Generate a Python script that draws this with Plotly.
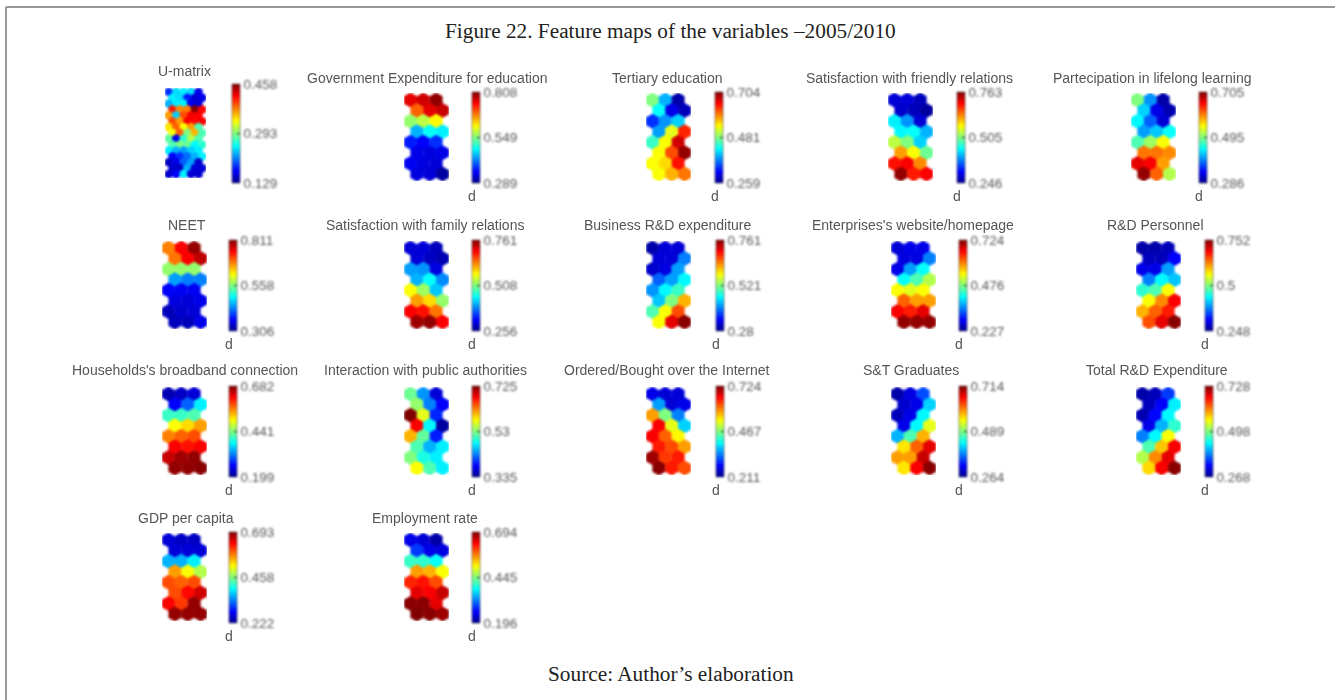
import plotly.graph_objects as go

W, H = 1335, 700

# colour position of each cell on its colour bar, 0 = bottom, 1 = top
u_matrix = [
    [.17, .34, .36, .34, .10],
    [.36, .34, .15, .08, .10],
    [.30, .36, .36, .10, .08],
    [.85, .74, .75, 1.0, .87],
    [.72, .33, .80, .88, .88],
    [.80, .72, .88, .87, .88],
    [.65, .78, .62, .72, .45],
    [.62, .78, .50, .70, .45],
    [.47, .10, .42, .55, .45],
    [.45, .50, .48, .37, .42],
    [.36, .30, .28, .33, .36],
    [.12, .17, .23, .30, .36],
    [.06, .10, .22, .28, .07],
    [.07, .06, .30, .08, .08],
    [.07, .12, .36, .08, .07],
]
gov_exp = [[.90, .92, .98], [.78, .90, .93], [.52, .56, .63], [.30, .38, .36],
           [.15, .12, .17], [.10, .09, .10], [.11, .09, .08], [.09, .08, .02]]
tertiary = [[.50, .30, .03], [.38, .10, .05], [.17, .27, .33], [.28, .60, .84],
            [.43, .62, .92], [.62, .80, .98], [.62, .66, .86], [.62, .70, .76]]
friendly = [[.08, .08, .05], [.07, .05, .02], [.36, .27, .08], [.37, .38, .30],
            [.56, .50, .33], [.72, .62, .48], [.86, .88, .74], [.98, .85, .88]]
lifelong = [[.50, .27, .03], [.33, .10, .04], [.37, .22, .08], [.28, .32, .38],
            [.45, .53, .62], [.76, .76, .74], [.90, .88, .72], [.98, .78, .55]]
neet = [[.75, .88, .98], [.76, .88, .94], [.52, .52, .52], [.28, .25, .25],
        [.12, .11, .11], [.09, .08, .10], [.05, .07, .08], [.05, .05, .10]]
family = [[.08, .08, .05], [.08, .06, .04], [.28, .27, .09], [.30, .38, .26],
          [.62, .53, .32], [.72, .66, .52], [.88, .86, .76], [.97, .98, .88]]
business = [[.03, .08, .08], [.08, .08, .25], [.07, .09, .28], [.22, .28, .37],
            [.27, .37, .43], [.32, .50, .70], [.45, .62, .80], [.62, .90, .99]]
website = [[.08, .10, .10], [.09, .09, .25], [.10, .28, .38], [.38, .45, .55],
           [.62, .60, .62], [.78, .72, .72], [.88, .85, .90], [.98, .98, .98]]
personnel = [[.03, .03, .05], [.05, .05, .12], [.10, .10, .28], [.25, .37, .32],
             [.42, .45, .62], [.62, .74, .88], [.70, .78, .85], [.80, .90, .99]]
broadband = [[.04, .06, .08], [.12, .22, .36], [.43, .43, .45], [.62, .66, .72],
             [.75, .78, .80], [.88, .86, .88], [.93, .97, .98], [.98, .98, .99]]
interaction = [[.48, .27, .08], [.52, .25, .12], [1.0, .60, .16], [.88, .37, .02],
               [.70, .47, .15], [.45, .30, .36], [.50, .40, .36], [.62, .45, .36]]
ordered = [[.10, .08, .08], [.28, .08, .10], [.72, .50, .25], [.88, .60, .33],
           [.88, .78, .63], [.85, .80, .72], [.97, .82, .85], [.99, .85, .80]]
graduates = [[.03, .09, .20], [.07, .10, .33], [.05, .10, .37], [.10, .37, .60],
             [.30, .45, .70], [.65, .78, .90], [.72, .72, .93], [.65, .88, .99]]
total_rd = [[.03, .05, .18], [.05, .12, .36], [.04, .13, .37], [.10, .30, .42],
            [.25, .37, .62], [.45, .68, .88], [.55, .74, .90], [.66, .88, .99]]
gdp = [[.08, .06, .06], [.08, .08, .08], [.30, .30, .36], [.72, .62, .55],
       [.80, .78, .80], [.80, .87, .92], [.88, .82, .98], [.98, .98, .98]]
employment = [[.10, .08, .03], [.18, .10, .09], [.43, .42, .38], [.72, .70, .62],
              [.84, .86, .80], [.90, .88, .93], [.99, .99, .90], [1.0, .99, .97]]

# name, cells, tick labels low/mid/high
panels = [
    ("U-matrix", u_matrix, ["0.129", "0.293", "0.458"]),
    ("Government Expenditure for education", gov_exp, ["0.289", "0.549", "0.808"]),
    ("Tertiary education", tertiary, ["0.259", "0.481", "0.704"]),
    ("Satisfaction with friendly relations", friendly, ["0.246", "0.505", "0.763"]),
    ("Partecipation in lifelong learning", lifelong, ["0.286", "0.495", "0.705"]),
    ("NEET", neet, ["0.306", "0.558", "0.811"]),
    ("Satisfaction with family relations", family, ["0.256", "0.508", "0.761"]),
    ("Business R&D expenditure", business, ["0.28", "0.521", "0.761"]),
    ("Enterprises's website/homepage", website, ["0.227", "0.476", "0.724"]),
    ("R&D Personnel", personnel, ["0.248", "0.5", "0.752"]),
    ("Households's broadband connection", broadband, ["0.199", "0.441", "0.682"]),
    ("Interaction with public authorities", interaction, ["0.335", "0.53", "0.725"]),
    ("Ordered/Bought over the Internet", ordered, ["0.211", "0.467", "0.724"]),
    ("S&T Graduates", graduates, ["0.264", "0.489", "0.714"]),
    ("Total R&D Expenditure", total_rd, ["0.268", "0.498", "0.728"]),
    ("GDP per capita", gdp, ["0.222", "0.458", "0.693"]),
    ("Employment rate", employment, ["0.196", "0.445", "0.694"]),
]

# layout in pixels: left edge of map, left edge of colour bar, title centre
map_left = [165, 404, 646, 888, 1131, 162, 404, 646, 891, 1136, 162, 404, 646, 891, 1136, 162, 404]
bar_left = [232, 472, 715, 957, 1199, 229, 472, 716, 959, 1205, 229, 472, 716, 959, 1205, 229, 472]
title_x = [184, 427, 667, 909, 1152, 187, 425, 668, 913, 1155, 185, 425, 667, 911, 1157, 186, 425]
row_top = [93, 241, 387, 533]
bar_top = [92, 240, 386, 532]
title_y = [78, 225, 370, 518]

jet = [[0, "#00008f"], [.125, "#0000ff"], [.375, "#00ffff"],
       [.625, "#ffff00"], [.875, "#ff0000"], [1, "#800000"]]
grey = "#555555"
label_font = dict(family="Liberation Sans", size=14, color=grey)
tick_font = dict(family="Liberation Sans", size=13.5, color=grey)
caption_font = dict(family="Liberation Serif", size=21.3, color="#222222")


def px(x):
    return x / W


def py(y):
    return 1 - y / H


fig = go.Figure()
notes = []
for i, (name, cells, labels) in enumerate(panels):
    row = 0 if i < 5 else 1 if i < 10 else 2 if i < 15 else 3
    lo, mid, hi = [float(t) for t in labels]
    n_cols = len(cells[0])
    xs, ys, zs = [], [], []
    for r, vals in enumerate(cells):
        for c, v in enumerate(vals):
            xs.append(c + 0.5 * (r % 2))
            ys.append(r)
            zs.append(lo + v * (hi - lo))

    top = row_top[row]
    cb_top, cb_len = bar_top[row], 91
    if name == "U-matrix":
        top, w, h, size = 88, 41, 90, 9.5
        cb_top, cb_len = 84, 99
    else:
        w, h, size = 45, 88, 15
    ax = "" if i == 0 else str(i + 1)
    fig.add_trace(go.Scatter(
        x=xs, y=ys, mode="markers", xaxis="x" + ax, yaxis="y" + ax,
        marker=dict(
            symbol="hexagon", size=size, color=zs, cmin=lo, cmax=hi,
            colorscale=jet, line=dict(width=0),
            colorbar=dict(
                x=px(bar_left[i]), xanchor="left", xpad=0, ypad=0,
                y=py(cb_top), yanchor="top",
                lenmode="pixels", len=cb_len, thickness=8,
                tickmode="array", tickvals=[lo, mid, hi], ticktext=labels,
                ticks="inside", ticklen=3, tickcolor="#222222",
                outlinewidth=0.5, outlinecolor="#333333", borderwidth=0,
                tickfont=tick_font,
            ),
        ),
        showlegend=False,
    ))
    fig.layout["xaxis" + ax] = dict(
        domain=[px(map_left[i]), px(map_left[i] + w)], range=[-0.5, n_cols],
        visible=False, anchor="y" + ax, fixedrange=True)
    fig.layout["yaxis" + ax] = dict(
        domain=[py(top + h), py(top)], range=[len(cells) - 1 + 0.67, -0.67],
        visible=False, anchor="x" + ax, fixedrange=True)

    notes.append(dict(x=px(title_x[i]), y=py(title_y[row]) if i else py(71), text=name,
                      font=label_font))
    if i:
        notes.append(dict(x=px(bar_left[i]), y=py(row_top[row] + 103), text="d",
                          font=label_font))

notes.append(dict(x=px(670), y=py(31), text="Figure 22. Feature maps of the variables –2005/2010",
                  font=caption_font))
notes.append(dict(x=px(671), y=py(674), text="Source: Author’s elaboration",
                  font=caption_font))
for n in notes:
    n.update(xref="paper", yref="paper", showarrow=False, xanchor="center", yanchor="middle")

fig.update_layout(
    width=W, height=H, margin=dict(l=0, r=0, t=0, b=0, autoexpand=False),
    paper_bgcolor="white", plot_bgcolor="white", annotations=notes,
    shapes=[
        dict(type="line", xref="paper", yref="paper", x0=px(6), x1=px(1335),
             y0=py(7), y1=py(7), line=dict(color="#999999", width=2)),
        dict(type="line", xref="paper", yref="paper", x0=px(6), x1=px(6),
             y0=py(7), y1=py(700), line=dict(color="#999999", width=2)),
    ],
)

# page without its default margin; the maps in the source are a soft, scanned image
post = """
document.body.style.margin = '0';
document.body.style.overflow = 'hidden';
var soft = document.querySelectorAll('.cartesianlayer .trace, .colorbar');
soft.forEach(function (el) { el.style.filter = 'blur(0.8px)'; });
var notes = document.querySelectorAll('.annotation');
notes.forEach(function (el, i) {
    if (i < notes.length - 2) { el.style.filter = 'blur(0.5px)'; }
});
"""
fig.write_html("out.html", post_script=post, config={"displayModeBar": False})
